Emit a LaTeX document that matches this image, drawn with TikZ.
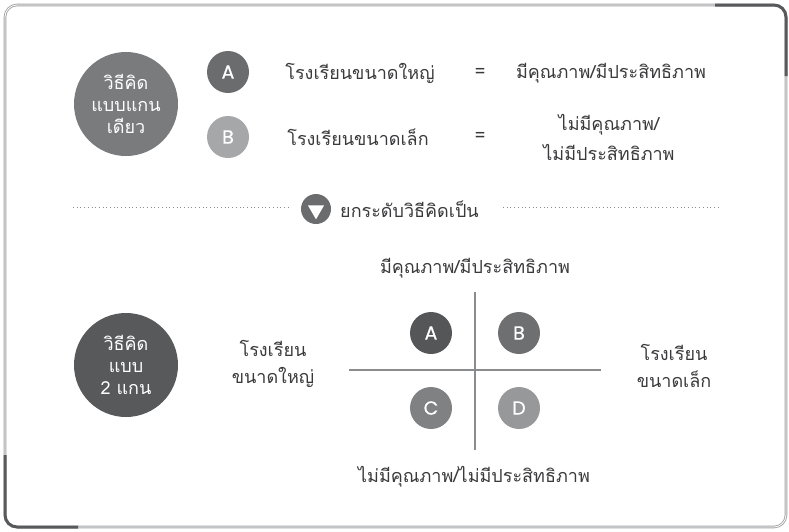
\documentclass[tikz,border=0pt]{standalone}
\usepackage{fontspec}
\setmainfont[Script=Thai]{Loma}
\newfontfamily\latinfont[FakeBold=0.6]{Poppins}
\usetikzlibrary{shapes.geometric}
\definecolor{txt}{HTML}{3A3A3C}
\definecolor{frameL}{HTML}{A3A4A6}
\definecolor{frameD}{HTML}{58595B}
\definecolor{bigA}{HTML}{7A7B7D}
\definecolor{bigB}{HTML}{58595B}
\definecolor{cA1}{HTML}{6B6C6E}
\definecolor{cB1}{HTML}{A6A7A9}
\definecolor{qA}{HTML}{555658}
\definecolor{qB}{HTML}{6E6F71}
\definecolor{qC}{HTML}{808183}
\definecolor{qD}{HTML}{97989A}
\definecolor{axis}{HTML}{8A8B8D}
\tikzset{
  bigc/.style={circle, minimum size=104pt, inner sep=0pt, text=white, align=center, font=\fontsize{18}{22}\selectfont},
  smallc/.style={circle, minimum size=42pt, inner sep=0pt, text=white, font=\latinfont\fontsize{19}{20}\selectfont},
  lbl/.style={text=txt, align=center, font=\fontsize{18}{30}\selectfont, inner sep=0pt},
  lbltwo/.style={lbl, font=\fontsize{18}{27}\selectfont},
  dots/.style={draw=axis, line width=0.9pt, dash pattern=on 0.9pt off 2.8pt},
  axisline/.style={draw=axis, line width=2pt},
}
\begin{document}
\begin{tikzpicture}[x=1pt,y=-1pt]
\useasboundingbox (0,0) rectangle (789,531);
% frame
\draw[frameL, double=white, double distance=0.8pt, line width=0.9pt, rounded corners=12pt] (5,5) rectangle (786,527);
\draw[frameD, line width=3pt, rounded corners=12pt] (715,5) -- (786,5) -- (786,76);
\draw[frameD, line width=3pt, rounded corners=12pt] (5,455) -- (5,527) -- (78,527);
% top part
\node[bigc, fill=bigA] (one) at (126,104) {วิธีคิด\\แบบแกน\\เดียว};
\node[smallc, fill=cA1] (a1) at (228,72) {A};
\node[smallc, fill=cB1] (b1) at (228,137) {B};
\node[lbl] (big1) at (360,73) {โรงเรียนขนาดใหญ่};
\node[lbl] (eq1) at (480,73) {=};
\node[lbl] (q1) at (611,73) {มีคุณภาพ/มีประสิทธิภาพ};
\node[lbl] (small1) at (358,137) {โรงเรียนขนาดเล็ก};
\node[lbl] (eq2) at (480,137) {=};
\node[lbl] (nq1) at (609,137) {ไม่มีคุณภาพ/\\ไม่มีประสิทธิภาพ};
% divider
\node[circle, fill=cA1, minimum size=30pt, inner sep=0pt] (tri) at (316,209) {};
\node[isosceles triangle, isosceles triangle apex angle=60, shape border rotate=-90, fill=white, inner sep=0pt, minimum height=14pt] (trishape) at (316,210) {};
\node[lbl, anchor=west] (up) at (340,209) {ยกระดับวิธีคิดเป็น};
\coordinate (dl1) at (73,207);
\coordinate (dl2) at (290,207);
\coordinate (dr1) at (503,207);
\coordinate (dr2) at (718,207);
\draw[dots] (dl1) -- (dl2);
\draw[dots] (dr1) -- (dr2);
% bottom part
\node[bigc, fill=bigB] (two) at (126,365) {วิธีคิด\\แบบ\\2 แกน};
\node[lbltwo] (bigS) at (273,364) {โรงเรียน\\ขนาดใหญ่};
\node[lbltwo] (smallS) at (674,366) {โรงเรียน\\ขนาดเล็ก};
\node[lbl] (top) at (475,268) {มีคุณภาพ/มีประสิทธิภาพ};
\node[lbl] (bot) at (474,477) {ไม่มีคุณภาพ/ไม่มีประสิทธิภาพ};
\coordinate (vt) at (475,292);
\coordinate (vb) at (475,450);
\coordinate (hl) at (349,370);
\coordinate (hr) at (601,370);
\draw[axisline] (vt) -- (vb);
\draw[axisline] (hl) -- (hr);
\node[smallc, fill=qA] (qa) at (431,333) {A};
\node[smallc, fill=qB] (qb) at (519,333) {B};
\node[smallc, fill=qC] (qc) at (431,408) {C};
\node[smallc, fill=qD] (qd) at (519,408) {D};
\end{tikzpicture}
\end{document}
